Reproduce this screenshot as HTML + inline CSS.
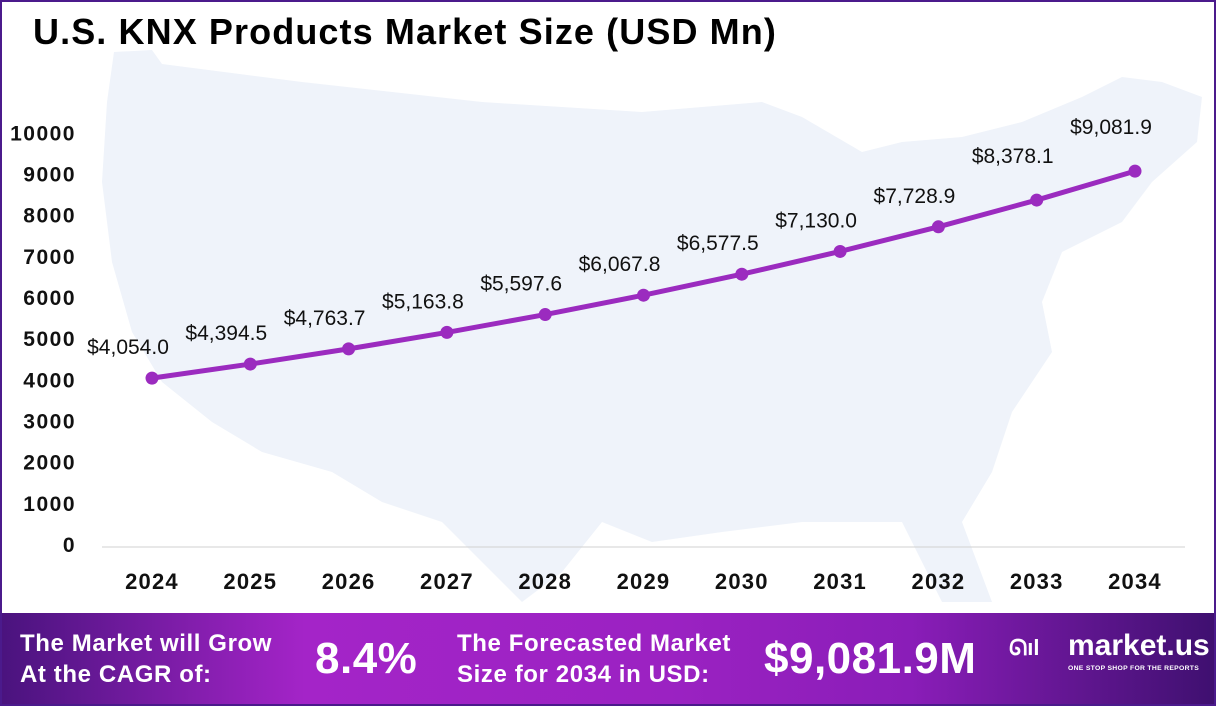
<!DOCTYPE html>
<html><head><meta charset="utf-8"><style>
body{margin:0;width:1216px;height:706px;overflow:hidden;background:#fff;font-family:"Liberation Sans",sans-serif}
#wrap{position:absolute;left:0;top:0;width:1212px;height:702px;border:2px solid #4b1a8c;background:#fff;overflow:hidden}
#title{position:absolute;left:31px;top:9px;font-size:36px;font-weight:bold;color:#000;letter-spacing:1.1px}
#banner{position:absolute;left:0;top:611px;width:1212px;height:91px;background:linear-gradient(90deg,#4a137e 0%,#a424c8 25%,#9b22c2 55%,#8a1db8 75%,#3f1070 100%);color:#fff;font-weight:bold}
.bt{position:absolute;font-size:24px;line-height:31px;letter-spacing:0.6px}
.big{position:absolute;font-size:44px;letter-spacing:0.5px}
</style></head><body>
<div id="wrap">
<svg id="chart" width="1212" height="611" style="position:absolute;left:0;top:0">
<polygon fill="#eff3fa" points="112,50 150,48 160,62 300,80 480,100 640,110 760,100 800,115 860,150 900,140 960,135 1020,120 1080,95 1120,75 1160,80 1200,95 1195,140 1150,180 1120,220 1060,250 1040,300 1050,350 1010,410 990,470 960,520 990,600 940,600 900,520 800,520 720,530 650,540 600,520 560,570 520,600 480,560 440,520 380,500 330,470 260,450 210,420 160,380 130,330 110,260 100,180 105,100"/>
<g id="axes"></g><g id="marks"></g>
</svg>
<div id="title">U.S. KNX Products Market Size (USD Mn)</div>
<div id="banner">
<div class="bt" style="left:18px;top:15px">The Market will Grow<br>At the CAGR of:</div>
<div class="big" style="left:313px;top:21px">8.4%</div>
<div class="bt" style="left:455px;top:15px">The Forecasted Market<br>Size for 2034 in USD:</div>
<div class="big" style="left:762px;top:21px">$9,081.9M</div>
<div style="position:absolute;left:1007px;top:22px;font-size:22px">ᘏıl</div>
<div style="position:absolute;left:1066px;top:16px;font-size:30px">market.us</div>
<div style="position:absolute;left:1066px;top:52px;font-size:6.8px;letter-spacing:0.3px;white-space:nowrap">ONE STOP SHOP FOR THE REPORTS</div>
</div>
</div>
<script>
const years=["2024","2025","2026","2027","2028","2029","2030","2031","2032","2033","2034"];
const values=[4054.0,4394.5,4763.7,5163.8,5597.6,6067.8,6577.5,7130.0,7728.9,8378.1,9081.9];
const valueLabels=["$4,054.0","$4,394.5","$4,763.7","$5,163.8","$5,597.6","$6,067.8","$6,577.5","$7,130.0","$7,728.9","$8,378.1","$9,081.9"];
const yTicks=[0,1000,2000,3000,4000,5000,6000,7000,8000,9000,10000];
const NS="http://www.w3.org/2000/svg";
const x=i=>150+i*98.3;
const y=v=>543-v*0.04117;
const ax=document.getElementById('axes'),mk=document.getElementById('marks');
function el(t,a,p){const e=document.createElementNS(NS,t);for(const k in a)e.setAttribute(k,a[k]);p.appendChild(e);return e;}
const base=el('line',{x1:100,x2:1183,y1:545,y2:545,stroke:'#d0d0d0','stroke-width':1},ax);


yTicks.forEach(t=>{const tx=el('text',{x:74,y:y(t)+7,'text-anchor':'end','font-size':21,'font-weight':'bold',fill:'#111','letter-spacing':1.5},ax);tx.textContent=t;

});
years.forEach((yr,i)=>{const tx=el('text',{x:x(i),y:587,'text-anchor':'middle','font-size':22,'font-weight':'bold',fill:'#111','letter-spacing':1.2},ax);tx.textContent=yr;

});
const line=el('polyline',{points:values.map((v,i)=>x(i)+','+y(v)).join(' '),fill:'none',stroke:'#9b2bbf','stroke-width':5,'stroke-linejoin':'round'},mk);


values.forEach((v,i)=>{const c=el('circle',{cx:x(i),cy:y(v),r:6.5,fill:'#9b2bbf'},mk);


const dy=i>=9?-37:-24;
const t=el('text',{x:x(i)-24,y:y(v)+dy,'text-anchor':'middle','font-size':21,fill:'#111'},mk);t.textContent=valueLabels[i];

});
</script>
</body></html>
